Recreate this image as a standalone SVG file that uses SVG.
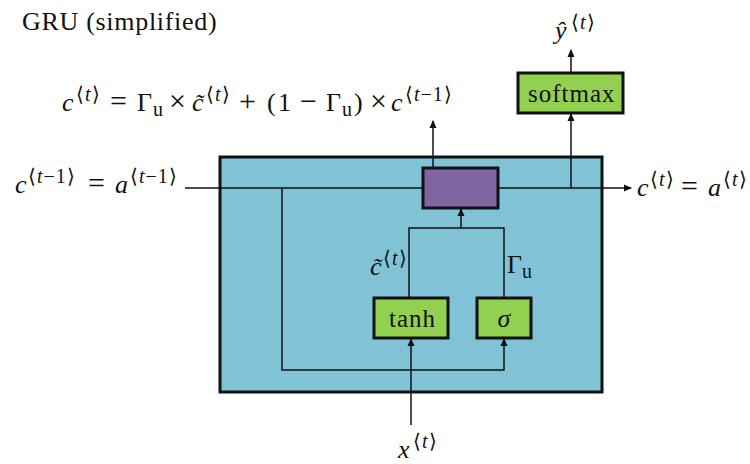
<svg xmlns="http://www.w3.org/2000/svg" width="750" height="464" viewBox="0 0 750 464" font-family="Liberation Serif, Times New Roman, serif">
<style>
.i{font-style:italic}
.s{font-size:20px;letter-spacing:1px}
.o{font-size:30px}
.box{stroke:#111;stroke-width:3}
.ln{fill:none;stroke:#111;stroke-width:1.5}
.arr{marker-end:url(#ah)}
</style>
<defs>
<marker id="ah" markerUnits="userSpaceOnUse" markerWidth="8" markerHeight="8" refX="7" refY="4" orient="auto">
<path d="M0,0.5 L8,4 L0,7.5 z" fill="#111"/>
</marker>
</defs>
<rect width="750" height="464" fill="#fff"/>
<text x="22" y="30" font-size="26" fill="#111" letter-spacing="0.7">GRU (simplified)</text>
<g id="cell"><rect class="box" x="220" y="157" width="382" height="235" fill="#80C3D6"/></g>
<g id="connectors">
<path class="ln arr" d="M185,188 H631"/>
<path class="ln arr" d="M433,168 V121"/>
<path class="ln arr" d="M571,188 V114"/>
<path class="ln arr" d="M571,73 V50"/>
<path class="ln arr" d="M282,188 V370 H504 V339"/>
<path class="ln arr" d="M411,425 V339"/>
<path class="ln" d="M409,298 V228 H504 V298"/>
<path class="ln arr" d="M461,228 V209"/>
</g>
<g id="gate"><rect class="box" x="423" y="168" width="75" height="40" fill="#8064A2"/></g>
<g id="softmax"><rect class="box" x="518" y="73" width="105" height="40" fill="#92D050"/>
<text x="528" y="102" font-size="25" fill="#111" letter-spacing="1">softmax</text></g>
<g id="tanh"><rect class="box" x="374" y="298" width="74" height="40" fill="#92D050"/>
<text x="389" y="327" font-size="25" fill="#111" letter-spacing="1">tanh</text></g>
<g id="sigma"><rect class="box" x="477" y="298" width="54" height="40" fill="#92D050"/>
<text class="i" x="504" y="327" font-size="26" fill="#111" text-anchor="middle">σ</text></g>
<g font-size="26" fill="#111">
<text y="111"><tspan class="i" x="62">c</tspan><tspan class="s" x="76" y="101">⟨<tspan class="i">t</tspan>⟩</tspan><tspan class="o" x="110" y="111">=</tspan><tspan x="137">Γ</tspan><tspan class="s" x="153" y="116">u</tspan><tspan class="o" x="169" y="111">×</tspan><tspan class="i" x="192">c̃</tspan><tspan class="s" x="206" y="101">⟨<tspan class="i">t</tspan>⟩</tspan><tspan class="o" x="239" y="111">+</tspan><tspan x="267">(</tspan><tspan x="278">1</tspan><tspan class="o" x="300">−</tspan><tspan x="326">Γ</tspan><tspan class="s" x="342" y="116">u</tspan><tspan x="354" y="111">)</tspan><tspan class="o" x="370">×</tspan><tspan class="i" x="391">c</tspan><tspan class="s" x="405" y="101">⟨<tspan class="i">t</tspan>−1⟩</tspan></text>
<text y="193"><tspan class="i" x="15">c</tspan><tspan class="s" x="28" y="183">⟨<tspan class="i">t</tspan>−1⟩</tspan><tspan class="o" x="88" y="193">=</tspan><tspan class="i" x="115">a</tspan><tspan class="s" x="130" y="183">⟨<tspan class="i">t</tspan>−1⟩</tspan></text>
<text y="196"><tspan class="i" x="637">c</tspan><tspan class="s" x="650" y="186">⟨<tspan class="i">t</tspan>⟩</tspan><tspan class="o" x="681" y="196">=</tspan><tspan class="i" x="708">a</tspan><tspan class="s" x="723" y="186">⟨<tspan class="i">t</tspan>⟩</tspan></text>
<text y="275"><tspan class="i" x="370">c̃</tspan><tspan class="s" x="383" y="265">⟨<tspan class="i">t</tspan>⟩</tspan></text>
<text y="273"><tspan x="507">Γ</tspan><tspan class="s" x="522" y="278">u</tspan></text>
<text y="39"><tspan class="i" x="555">ŷ</tspan><tspan class="s" x="571" y="29">⟨<tspan class="i">t</tspan>⟩</tspan></text>
<text y="458"><tspan class="i" x="398">x</tspan><tspan class="s" x="413" y="448">⟨<tspan class="i">t</tspan>⟩</tspan></text>
</g>
</svg>
